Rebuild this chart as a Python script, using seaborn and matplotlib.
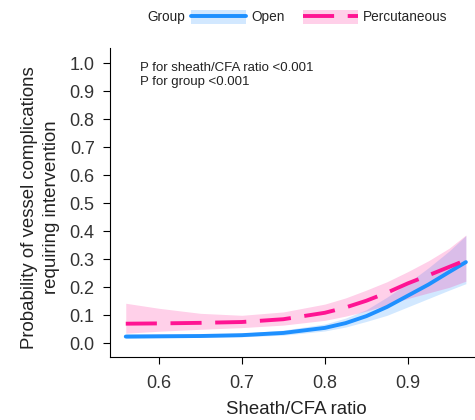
import numpy as np
import pandas as pd
import seaborn as sns
import matplotlib.pyplot as plt
from matplotlib.patches import Patch
from matplotlib.lines import Line2D

# Values
ratio = [0.56, 0.60, 0.65, 0.70, 0.75, 0.80, 0.825, 0.85, 0.875, 0.90, 0.925, 0.95, 0.97]

open_fit = [0.024, 0.025, 0.026, 0.029, 0.037, 0.055, 0.072, 0.097, 0.130, 0.170, 0.210, 0.255, 0.290]
open_lo = [0.017, 0.019, 0.021, 0.023, 0.029, 0.044, 0.058, 0.078, 0.100, 0.130, 0.160, 0.190, 0.213]
open_hi = [0.034, 0.033, 0.033, 0.036, 0.047, 0.069, 0.090, 0.120, 0.165, 0.215, 0.270, 0.330, 0.385]

perc_fit = [0.070, 0.071, 0.073, 0.076, 0.086, 0.109, 0.128, 0.152, 0.181, 0.214, 0.243, 0.273, 0.297]
perc_lo = [0.036, 0.043, 0.050, 0.056, 0.065, 0.082, 0.097, 0.115, 0.137, 0.160, 0.180, 0.200, 0.222]
perc_hi = [0.143, 0.125, 0.107, 0.100, 0.112, 0.140, 0.162, 0.190, 0.220, 0.256, 0.295, 0.340, 0.387]

groups = ["Open", "Percutaneous"]
colors = {"Open": "#1E90FF", "Percutaneous": "#FF1493"}
x_ticks = [0.6, 0.7, 0.8, 0.9]
y_ticks = [0.0, 0.1, 0.2, 0.3, 0.4, 0.5, 0.6, 0.7, 0.8, 0.9, 1.0]

df = pd.DataFrame({
    "ratio": ratio * 2,
    "prob": open_fit + perc_fit,
    "lo": open_lo + perc_lo,
    "hi": open_hi + perc_hi,
    "group": ["Open"] * len(ratio) + ["Percutaneous"] * len(ratio),
})

sns.set_theme(style="ticks")
plt.rcParams["font.family"] = ["Liberation Sans", "DejaVu Sans"]

fig = plt.figure(figsize=(4.75, 4.2), dpi=100)
ax = fig.add_axes([110 / 475, 1 - 357 / 420, 365 / 475, 309 / 420])

# confidence bands
for g in groups:
    sub = df[df["group"] == g]
    ax.fill_between(sub["ratio"], sub["lo"], sub["hi"], color=colors[g], alpha=0.2, lw=0)

sns.lineplot(
    data=df, x="ratio", y="prob", hue="group", style="group",
    palette=colors, dashes={"Open": "", "Percutaneous": (8, 3.5)},
    linewidth=2.8, ax=ax, legend=False,
)

ax.set_xlim(0.541, 0.981)
ax.set_ylim(-0.049, 1.055)
ax.set_xticks(x_ticks)
ax.set_yticks(y_ticks)
ax.set_xticklabels([f"{v:.1f}" for v in x_ticks])
ax.set_yticklabels([f"{v:.1f}" for v in y_ticks])
ax.tick_params(direction="out", length=5, width=0.8, labelsize=13,
               labelcolor="#333333", color="black", pad=6)
ax.tick_params(axis="x", pad=8)
for side in ["top", "right"]:
    ax.spines[side].set_visible(False)
for side in ["left", "bottom"]:
    ax.spines[side].set_color("black")
    ax.spines[side].set_linewidth(0.8)

ax.set_xlabel("Sheath/CFA ratio", fontsize=13.4, color="#222222")
ax.set_ylabel("Probability of vessel complications\nrequiring intervention",
              fontsize=13.4, color="#222222", linespacing=1.4)
ax.xaxis.set_label_coords(0.51, -0.143)
ax.yaxis.set_label_coords(-0.137, 0.485)

ax.text((140 - 110) / 365, (357 - 62) / 309,
        "P for sheath/CFA ratio <0.001\nP for group <0.001",
        transform=ax.transAxes, fontsize=9.5, color="#222222",
        va="top", ha="left", linespacing=1.25)

# legend on top
handles = [
    (Patch(facecolor=colors["Open"], alpha=0.2, edgecolor="none"),
     Line2D([], [], color=colors["Open"], lw=2.8)),
    (Patch(facecolor=colors["Percutaneous"], alpha=0.2, edgecolor="none"),
     Line2D([], [], color=colors["Percutaneous"], lw=2.8, dashes=(8, 3.5))),
]
fig.text(147 / 475, 1 - 17 / 420, "Group", fontsize=9.8, color="#222222",
         va="center", ha="left")
fig.legend(handles, groups, loc="center left", bbox_to_anchor=(191 / 475, 1 - 17 / 420),
           ncol=2, frameon=False, fontsize=9.8, handlelength=4.05, handleheight=1.2,
           handletextpad=0.35, columnspacing=1.4, borderpad=0, borderaxespad=0)

fig.savefig("out.png", dpi=100)
